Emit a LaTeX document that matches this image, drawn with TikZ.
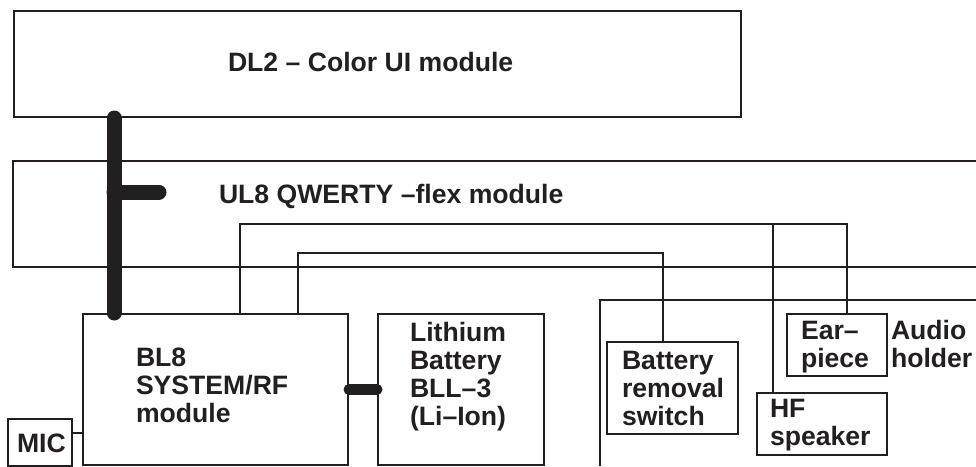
\documentclass[tikz,border=0pt]{standalone}
\usepackage{fontspec}
\setmainfont{Liberation Sans}
\definecolor{ink}{HTML}{231F20}
\begin{document}
\begin{tikzpicture}[x=1pt,y=-1pt,
  line width=2pt, draw=ink,
  box/.style={draw=ink, line width=2pt, rectangle, inner sep=0pt, anchor=north west},
  lbl/.style={inner sep=0pt, anchor=base west, align=left, text=ink,
    font=\bfseries\fontsize{26.6}{28}\selectfont},
  wire/.style={draw=ink, line width=2pt},
  bus/.style={draw=ink, line width=15pt, line cap=round},
  bus2/.style={draw=ink, line width=11pt, line cap=round}]
\useasboundingbox (0,0) rectangle (976,466);
% boxes
\node[box, minimum width=727pt, minimum height=106pt] (dl2) at (13,10) {};
\node[box, minimum width=265pt, minimum height=151pt] (bl8) at (82,313) {};
\node[box, minimum width=166pt, minimum height=151pt] (lith) at (377,313) {};
\node[box, minimum width=64pt, minimum height=47pt] (mic) at (7,418) {};
\node[box, minimum width=131pt, minimum height=92pt] (brs) at (606,341) {};
\node[box, minimum width=100pt, minimum height=62pt] (ear) at (786,313) {};
\node[box, minimum width=130pt, minimum height=62pt] (hf) at (756,392) {};
% open frames
\coordinate (ul8a) at (976,161);
\coordinate (ul8b) at (13,161);
\coordinate (ul8c) at (13,267);
\coordinate (ul8d) at (976,267);
\draw[wire] (ul8a) -- (ul8b) -- (ul8c) -- (ul8d);
\coordinate (aha) at (976,300);
\coordinate (ahb) at (600,300);
\coordinate (ahc) at (600,466);
\draw[wire] (aha) -- (ahb) -- (ahc);
% labels (anchor = baseline of last line)
\node[lbl] (tdl2) at (227,71) {DL2 -- Color UI module};
\node[lbl] (tul8) at (218,203) {UL8 QWERTY --flex module};
\node[lbl] (tbl8) at (135,422) {BL8\\SYSTEM/RF\\module};
\node[lbl] (tlith) at (409,425) {Lithium\\Battery\\BLL--3\\(Li--Ion)};
\node[lbl] (tbrs) at (621,425) {Battery\\removal\\switch};
\node[lbl] (tear) at (800,367) {Ear--\\piece};
\node[lbl] (taud) at (890,367) {Audio\\holder};
\node[lbl] (thf) at (769,445) {HF\\speaker};
\node[lbl] (tmic) at (16,452) {MIC};
% thick buses
\coordinate (xbus) at (114,192);
\coordinate (bend) at (159,192);
\draw[bus] (xbus |- dl2.south) -- (xbus |- bl8.north);
\draw[bus] (xbus) -- (bend);
\draw[bus2] (bl8.east) -- (lith.west);
% thin wires
\coordinate (xa) at (240,224);
\coordinate (ja) at (847,224);
\coordinate (jh) at (773,224);
\draw[wire] (xa |- bl8.north) -- (xa) -- (ja) -- (ja |- ear.north);
\draw[wire] (jh) -- (jh |- hf.north);
\coordinate (xb) at (298,253);
\coordinate (jb) at (663,253);
\draw[wire] (xb |- bl8.north) -- (xb) -- (jb) -- (jb |- brs.north);
\coordinate (ym) at (0,433);
\draw[wire] (mic.east |- ym) -- (bl8.west |- ym);
\end{tikzpicture}
\end{document}
